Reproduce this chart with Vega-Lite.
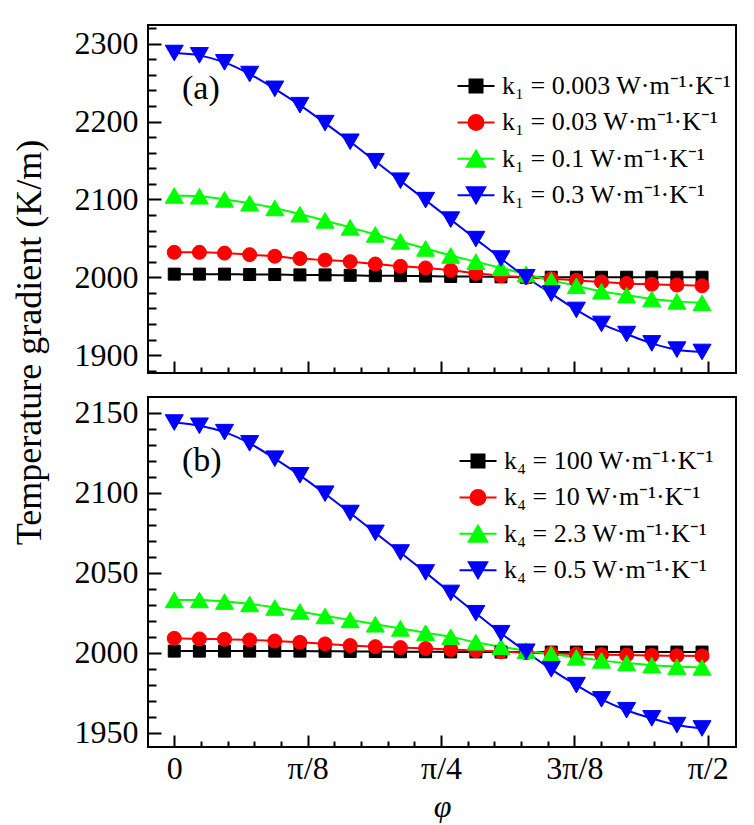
{
  "$schema": "https://vega.github.io/schema/vega-lite/v6.json",
  "padding": {"left": 10, "top": 24, "right": 0, "bottom": 0},
  "background": "white",
  "config": {
    "view": {"stroke": "black", "strokeWidth": 2},
    "axis": {"domain": false, "grid": false, "tickColor": "black", "tickWidth": 2, "labelFont": "Liberation Serif", "labelFontSize": 32, "labelColor": "black", "titleFont": "Liberation Serif", "titleColor": "black", "titleFontWeight": "normal"},
    "legend": {"labelFont": "Liberation Serif", "labelFontSize": 26, "labelColor": "black", "labelLimit": 400, "symbolSize": 400, "symbolStrokeWidth": 2, "symbolOpacity": 1, "labelOffset": 13, "padding": 0, "rowPadding": 10.4, "titlePadding": 0},
    "title": {"font": "Liberation Serif", "fontSize": 34, "fontWeight": "normal", "color": "black"}
  },
  "datasets": {
    "a": [
      {"x": 0, "y": 2004, "k": "0.003"}, {"x": 4.24, "y": 2004, "k": "0.003"}, {"x": 8.48, "y": 2004, "k": "0.003"}, {"x": 12.72, "y": 2003.5, "k": "0.003"}, {"x": 16.96, "y": 2003.5, "k": "0.003"}, {"x": 21.2, "y": 2003, "k": "0.003"}, {"x": 25.44, "y": 2003, "k": "0.003"}, {"x": 29.68, "y": 2002.5, "k": "0.003"}, {"x": 33.92, "y": 2002, "k": "0.003"}, {"x": 38.16, "y": 2002, "k": "0.003"}, {"x": 42.4, "y": 2001.5, "k": "0.003"}, {"x": 46.64, "y": 2001, "k": "0.003"}, {"x": 50.88, "y": 2001, "k": "0.003"}, {"x": 55.12, "y": 2000.5, "k": "0.003"}, {"x": 59.36, "y": 2000, "k": "0.003"}, {"x": 63.6, "y": 2000, "k": "0.003"}, {"x": 67.84, "y": 2000, "k": "0.003"}, {"x": 72.08, "y": 2000, "k": "0.003"}, {"x": 76.32, "y": 2000, "k": "0.003"}, {"x": 80.56, "y": 2000, "k": "0.003"}, {"x": 84.8, "y": 2000, "k": "0.003"}, {"x": 89.04, "y": 2000, "k": "0.003"},
      {"x": 0, "y": 2032, "k": "0.03"}, {"x": 4.24, "y": 2032, "k": "0.03"}, {"x": 8.48, "y": 2031, "k": "0.03"}, {"x": 12.72, "y": 2029, "k": "0.03"}, {"x": 16.96, "y": 2027, "k": "0.03"}, {"x": 21.2, "y": 2024, "k": "0.03"}, {"x": 25.44, "y": 2022, "k": "0.03"}, {"x": 29.68, "y": 2020, "k": "0.03"}, {"x": 33.92, "y": 2017, "k": "0.03"}, {"x": 38.16, "y": 2014, "k": "0.03"}, {"x": 42.4, "y": 2012, "k": "0.03"}, {"x": 46.64, "y": 2009, "k": "0.03"}, {"x": 50.88, "y": 2005, "k": "0.03"}, {"x": 55.12, "y": 2002, "k": "0.03"}, {"x": 59.36, "y": 2000, "k": "0.03"}, {"x": 63.6, "y": 1998, "k": "0.03"}, {"x": 67.84, "y": 1996, "k": "0.03"}, {"x": 72.08, "y": 1994, "k": "0.03"}, {"x": 76.32, "y": 1992, "k": "0.03"}, {"x": 80.56, "y": 1991, "k": "0.03"}, {"x": 84.8, "y": 1990, "k": "0.03"}, {"x": 89.04, "y": 1989, "k": "0.03"},
      {"x": 0, "y": 2105, "k": "0.1"}, {"x": 4.24, "y": 2104, "k": "0.1"}, {"x": 8.48, "y": 2100, "k": "0.1"}, {"x": 12.72, "y": 2095, "k": "0.1"}, {"x": 16.96, "y": 2089, "k": "0.1"}, {"x": 21.2, "y": 2081, "k": "0.1"}, {"x": 25.44, "y": 2073, "k": "0.1"}, {"x": 29.68, "y": 2064, "k": "0.1"}, {"x": 33.92, "y": 2055, "k": "0.1"}, {"x": 38.16, "y": 2046, "k": "0.1"}, {"x": 42.4, "y": 2037, "k": "0.1"}, {"x": 46.64, "y": 2028, "k": "0.1"}, {"x": 50.88, "y": 2020, "k": "0.1"}, {"x": 55.12, "y": 2012, "k": "0.1"}, {"x": 59.36, "y": 2004, "k": "0.1"}, {"x": 63.6, "y": 1996, "k": "0.1"}, {"x": 67.84, "y": 1989, "k": "0.1"}, {"x": 72.08, "y": 1982, "k": "0.1"}, {"x": 76.32, "y": 1977, "k": "0.1"}, {"x": 80.56, "y": 1972, "k": "0.1"}, {"x": 84.8, "y": 1969, "k": "0.1"}, {"x": 89.04, "y": 1967, "k": "0.1"},
      {"x": 0, "y": 2288, "k": "0.3"}, {"x": 4.24, "y": 2285, "k": "0.3"}, {"x": 8.48, "y": 2276, "k": "0.3"}, {"x": 12.72, "y": 2261, "k": "0.3"}, {"x": 16.96, "y": 2242, "k": "0.3"}, {"x": 21.2, "y": 2221, "k": "0.3"}, {"x": 25.44, "y": 2198, "k": "0.3"}, {"x": 29.68, "y": 2174, "k": "0.3"}, {"x": 33.92, "y": 2149, "k": "0.3"}, {"x": 38.16, "y": 2124, "k": "0.3"}, {"x": 42.4, "y": 2099, "k": "0.3"}, {"x": 46.64, "y": 2074, "k": "0.3"}, {"x": 50.88, "y": 2049, "k": "0.3"}, {"x": 55.12, "y": 2024, "k": "0.3"}, {"x": 59.36, "y": 2000, "k": "0.3"}, {"x": 63.6, "y": 1979, "k": "0.3"}, {"x": 67.84, "y": 1958, "k": "0.3"}, {"x": 72.08, "y": 1940, "k": "0.3"}, {"x": 76.32, "y": 1927, "k": "0.3"}, {"x": 80.56, "y": 1915, "k": "0.3"}, {"x": 84.8, "y": 1907, "k": "0.3"}, {"x": 89.04, "y": 1904, "k": "0.3"}
    ],
    "b": [
      {"x": 0, "y": 2001, "k": "100"}, {"x": 4.24, "y": 2001, "k": "100"}, {"x": 8.48, "y": 2001, "k": "100"}, {"x": 12.72, "y": 2001, "k": "100"}, {"x": 16.96, "y": 2001, "k": "100"}, {"x": 21.2, "y": 2001, "k": "100"}, {"x": 25.44, "y": 2000.9, "k": "100"}, {"x": 29.68, "y": 2000.8, "k": "100"}, {"x": 33.92, "y": 2000.7, "k": "100"}, {"x": 38.16, "y": 2000.6, "k": "100"}, {"x": 42.4, "y": 2000.6, "k": "100"}, {"x": 46.64, "y": 2000.5, "k": "100"}, {"x": 50.88, "y": 2000.5, "k": "100"}, {"x": 55.12, "y": 2000.4, "k": "100"}, {"x": 59.36, "y": 2000.4, "k": "100"}, {"x": 63.6, "y": 2000.4, "k": "100"}, {"x": 67.84, "y": 2000.4, "k": "100"}, {"x": 72.08, "y": 2000.4, "k": "100"}, {"x": 76.32, "y": 2000.4, "k": "100"}, {"x": 80.56, "y": 2000.4, "k": "100"}, {"x": 84.8, "y": 2000.4, "k": "100"}, {"x": 89.04, "y": 2000.4, "k": "100"},
      {"x": 0, "y": 2009, "k": "10"}, {"x": 4.24, "y": 2008.6, "k": "10"}, {"x": 8.48, "y": 2008.4, "k": "10"}, {"x": 12.72, "y": 2008, "k": "10"}, {"x": 16.96, "y": 2007.3, "k": "10"}, {"x": 21.2, "y": 2006.5, "k": "10"}, {"x": 25.44, "y": 2005.5, "k": "10"}, {"x": 29.68, "y": 2004.5, "k": "10"}, {"x": 33.92, "y": 2003.8, "k": "10"}, {"x": 38.16, "y": 2003.2, "k": "10"}, {"x": 42.4, "y": 2002.6, "k": "10"}, {"x": 46.64, "y": 2002, "k": "10"}, {"x": 50.88, "y": 2001.3, "k": "10"}, {"x": 55.12, "y": 2000.7, "k": "10"}, {"x": 59.36, "y": 2000, "k": "10"}, {"x": 63.6, "y": 1999.6, "k": "10"}, {"x": 67.84, "y": 1999.2, "k": "10"}, {"x": 72.08, "y": 1998.8, "k": "10"}, {"x": 76.32, "y": 1998.5, "k": "10"}, {"x": 80.56, "y": 1998.3, "k": "10"}, {"x": 84.8, "y": 1998.1, "k": "10"}, {"x": 89.04, "y": 1998, "k": "10"},
      {"x": 0, "y": 2033, "k": "2.3"}, {"x": 4.24, "y": 2033, "k": "2.3"}, {"x": 8.48, "y": 2032, "k": "2.3"}, {"x": 12.72, "y": 2030.5, "k": "2.3"}, {"x": 16.96, "y": 2028.3, "k": "2.3"}, {"x": 21.2, "y": 2025.8, "k": "2.3"}, {"x": 25.44, "y": 2023, "k": "2.3"}, {"x": 29.68, "y": 2020.5, "k": "2.3"}, {"x": 33.92, "y": 2017.8, "k": "2.3"}, {"x": 38.16, "y": 2015.2, "k": "2.3"}, {"x": 42.4, "y": 2012.5, "k": "2.3"}, {"x": 46.64, "y": 2010, "k": "2.3"}, {"x": 50.88, "y": 2006.5, "k": "2.3"}, {"x": 55.12, "y": 2003.8, "k": "2.3"}, {"x": 59.36, "y": 2001.3, "k": "2.3"}, {"x": 63.6, "y": 1999.2, "k": "2.3"}, {"x": 67.84, "y": 1997.1, "k": "2.3"}, {"x": 72.08, "y": 1995.2, "k": "2.3"}, {"x": 76.32, "y": 1993.5, "k": "2.3"}, {"x": 80.56, "y": 1992.2, "k": "2.3"}, {"x": 84.8, "y": 1991.3, "k": "2.3"}, {"x": 89.04, "y": 1990.8, "k": "2.3"},
      {"x": 0, "y": 2144, "k": "0.5"}, {"x": 4.24, "y": 2142, "k": "0.5"}, {"x": 8.48, "y": 2138, "k": "0.5"}, {"x": 12.72, "y": 2131, "k": "0.5"}, {"x": 16.96, "y": 2121.4, "k": "0.5"}, {"x": 21.2, "y": 2111, "k": "0.5"}, {"x": 25.44, "y": 2099.5, "k": "0.5"}, {"x": 29.68, "y": 2087.4, "k": "0.5"}, {"x": 33.92, "y": 2075, "k": "0.5"}, {"x": 38.16, "y": 2062.7, "k": "0.5"}, {"x": 42.4, "y": 2050.2, "k": "0.5"}, {"x": 46.64, "y": 2037.4, "k": "0.5"}, {"x": 50.88, "y": 2024.7, "k": "0.5"}, {"x": 55.12, "y": 2012.2, "k": "0.5"}, {"x": 59.36, "y": 2000.6, "k": "0.5"}, {"x": 63.6, "y": 1989.6, "k": "0.5"}, {"x": 67.84, "y": 1979.7, "k": "0.5"}, {"x": 72.08, "y": 1970.8, "k": "0.5"}, {"x": 76.32, "y": 1964, "k": "0.5"}, {"x": 80.56, "y": 1958.9, "k": "0.5"}, {"x": 84.8, "y": 1954.7, "k": "0.5"}, {"x": 89.04, "y": 1952.6, "k": "0.5"}
    ]
  },
  "vconcat": [
    {
      "data": {"name": "a"},
      "width": 588,
      "height": 348,
      "title": {"text": "(a)", "anchor": "start", "frame": "group", "orient": "top", "offset": 0, "dx": 34, "dy": 81},
      "encoding": {
        "x": {"field": "x", "type": "quantitative", "scale": {"domain": [-4.43, 94.77], "nice": false, "zero": false},
          "axis": {"values": [0, 4.5, 9, 13.5, 18, 22.5, 27, 31.5, 36, 40.5, 45, 49.5, 54, 58.5, 63, 67.5, 72, 76.5, 81, 85.5, 90], "labels": false, "title": null,
            "tickSize": {"condition": {"test": "datum.value % 22.5 === 0", "value": -12}, "value": -6}}},
        "y": {"field": "y", "type": "quantitative", "scale": {"domain": [1877, 2324], "nice": false, "zero": false},
          "axis": {"values": [1880, 1900, 1920, 1940, 1960, 1980, 2000, 2020, 2040, 2060, 2080, 2100, 2120, 2140, 2160, 2180, 2200, 2220, 2240, 2260, 2280, 2300, 2320], "format": "d",
            "labelExpr": "datum.value % 100 === 0 ? datum.label : ''", "labelPadding": 23,
            "tickSize": {"condition": {"test": "datum.value % 100 === 0", "value": -13}, "value": -8},
            "title": "Temperature gradient (K/m)", "titleFontSize": 36, "titleX": -108, "titleY": 317, "titleAngle": -90, "titleAlign": "center", "titleBaseline": "alphabetic"}}
      },
      "layer": [
        {"mark": {"type": "line", "strokeWidth": 2, "interpolate": "monotone"},
          "encoding": {
            "detail": {"field": "k", "type": "nominal"},
            "stroke": {"condition": [{"test": "datum.k === '0.003'", "value": "#000000"}, {"test": "datum.k === '0.03'", "value": "#ff0000"}, {"test": "datum.k === '0.1'", "value": "#00ff00"}], "value": "#0000ff"}}},
        {"mark": {"type": "point", "filled": true, "opacity": 1, "strokeWidth": 1},
          "encoding": {
            "fill": {"condition": [{"test": "datum.k === '0.003'", "value": "#000000"}, {"test": "datum.k === '0.03'", "value": "#ff0000"}, {"test": "datum.k === '0.1'", "value": "#00ff00"}], "value": "#0000ff"},
            "stroke": {"condition": [{"test": "datum.k === '0.003'", "value": "#000000"}, {"test": "datum.k === '0.03'", "value": "#ff0000"}, {"test": "datum.k === '0.1'", "value": "#00ff00"}], "value": "#0000ff"},
            "shape": {"condition": [{"test": "datum.k === '0.003'", "value": "square"}, {"test": "datum.k === '0.03'", "value": "circle"}, {"test": "datum.k === '0.1'", "value": "triangle-up"}], "value": "triangle-down"},
            "size": {"condition": [{"test": "datum.k === '0.003'", "value": 144}, {"test": "datum.k === '0.03'", "value": 196}], "value": 324}
          }},
        {"transform": [{"filter": "datum.x < -100"}],
          "mark": {"type": "point", "filled": true, "strokeWidth": 2},
          "encoding": {
            "fill": {"field": "k", "type": "nominal", "scale": {"domain": ["0.003", "0.03", "0.1", "0.3"], "range": ["#000000", "#ff0000", "#00ff00", "#0000ff"]},
              "legend": {"title": null, "orient": "none", "legendX": 315, "legendY": 48, "labelExpr": "'k₁ = ' + datum.label + ' W·m⁻¹·K⁻¹'"}},
            "stroke": {"field": "k", "type": "nominal", "scale": {"domain": ["0.003", "0.03", "0.1", "0.3"], "range": ["#000000", "#ff0000", "#00ff00", "#0000ff"]},
              "legend": {"title": null, "orient": "none", "legendX": 315, "legendY": 48, "labelExpr": "'k₁ = ' + datum.label + ' W·m⁻¹·K⁻¹'"}},
            "shape": {"field": "k", "type": "nominal", "scale": {"domain": ["0.003", "0.03", "0.1", "0.3"], "range": ["M-1.85,0H1.85M-0.65,-0.65H0.65V0.65H-0.65Z", "M-1.85,0H1.85M0.75,0A0.75,0.75,0,1,1,-0.75,0A0.75,0.75,0,1,1,0.75,0Z", "M-1.85,0H1.85M0,-0.8L0.92,0.8L-0.92,0.8Z", "M-1.85,0H1.85M0,0.8L0.92,-0.8L-0.92,-0.8Z"]},
              "legend": {"title": null, "orient": "none", "legendX": 315, "legendY": 48, "labelExpr": "'k₁ = ' + datum.label + ' W·m⁻¹·K⁻¹'"}}
          }}
      ]
    },
    {
      "data": {"name": "b"},
      "width": 588,
      "height": 350,
      "title": {"text": "(b)", "anchor": "start", "frame": "group", "orient": "top", "offset": 0, "dx": 34, "dy": 81},
      "encoding": {
        "x": {"field": "x", "type": "quantitative", "scale": {"domain": [-4.43, 94.77], "nice": false, "zero": false},
          "axis": {"values": [0, 4.5, 9, 13.5, 18, 22.5, 27, 31.5, 36, 40.5, 45, 49.5, 54, 58.5, 63, 67.5, 72, 76.5, 81, 85.5, 90],
            "labelExpr": "datum.value === 0 ? '0' : datum.value === 22.5 ? 'π/8' : datum.value === 45 ? 'π/4' : datum.value === 67.5 ? '3π/8' : datum.value === 90 ? 'π/2' : ''",
            "labelPadding": 18, "labelFlush": false,
            "tickSize": {"condition": {"test": "datum.value % 22.5 === 0", "value": -12}, "value": -6},
            "title": "φ", "titleFontSize": 32, "titleFontStyle": "italic", "titlePadding": 7}},
        "y": {"field": "y", "type": "quantitative", "scale": {"domain": [1941, 2160], "nice": false, "zero": false},
          "axis": {"values": [1950, 1960, 1970, 1980, 1990, 2000, 2010, 2020, 2030, 2040, 2050, 2060, 2070, 2080, 2090, 2100, 2110, 2120, 2130, 2140, 2150], "format": "d",
            "labelExpr": "datum.value % 50 === 0 ? datum.label : ''", "labelPadding": 23,
            "tickSize": {"condition": {"test": "datum.value % 50 === 0", "value": -13}, "value": -8},
            "title": null}}
      },
      "layer": [
        {"mark": {"type": "line", "strokeWidth": 2, "interpolate": "monotone"},
          "encoding": {
            "detail": {"field": "k", "type": "nominal"},
            "stroke": {"condition": [{"test": "datum.k === '100'", "value": "#000000"}, {"test": "datum.k === '10'", "value": "#ff0000"}, {"test": "datum.k === '2.3'", "value": "#00ff00"}], "value": "#0000ff"}}},
        {"mark": {"type": "point", "filled": true, "opacity": 1, "strokeWidth": 1},
          "encoding": {
            "fill": {"condition": [{"test": "datum.k === '100'", "value": "#000000"}, {"test": "datum.k === '10'", "value": "#ff0000"}, {"test": "datum.k === '2.3'", "value": "#00ff00"}], "value": "#0000ff"},
            "stroke": {"condition": [{"test": "datum.k === '100'", "value": "#000000"}, {"test": "datum.k === '10'", "value": "#ff0000"}, {"test": "datum.k === '2.3'", "value": "#00ff00"}], "value": "#0000ff"},
            "shape": {"condition": [{"test": "datum.k === '100'", "value": "square"}, {"test": "datum.k === '10'", "value": "circle"}, {"test": "datum.k === '2.3'", "value": "triangle-up"}], "value": "triangle-down"},
            "size": {"condition": [{"test": "datum.k === '100'", "value": 144}, {"test": "datum.k === '10'", "value": 196}], "value": 324}
          }},
        {"transform": [{"filter": "datum.x < -100"}],
          "mark": {"type": "point", "filled": true, "strokeWidth": 2},
          "encoding": {
            "fill": {"field": "k", "type": "nominal", "scale": {"domain": ["100", "10", "2.3", "0.5"], "range": ["#000000", "#ff0000", "#00ff00", "#0000ff"]},
              "legend": {"title": null, "orient": "none", "legendX": 317, "legendY": 51, "labelExpr": "'k₄ = ' + datum.label + ' W·m⁻¹·K⁻¹'"}},
            "stroke": {"field": "k", "type": "nominal", "scale": {"domain": ["100", "10", "2.3", "0.5"], "range": ["#000000", "#ff0000", "#00ff00", "#0000ff"]},
              "legend": {"title": null, "orient": "none", "legendX": 317, "legendY": 51, "labelExpr": "'k₄ = ' + datum.label + ' W·m⁻¹·K⁻¹'"}},
            "shape": {"field": "k", "type": "nominal", "scale": {"domain": ["100", "10", "2.3", "0.5"], "range": ["M-1.85,0H1.85M-0.65,-0.65H0.65V0.65H-0.65Z", "M-1.85,0H1.85M0.75,0A0.75,0.75,0,1,1,-0.75,0A0.75,0.75,0,1,1,0.75,0Z", "M-1.85,0H1.85M0,-0.8L0.92,0.8L-0.92,0.8Z", "M-1.85,0H1.85M0,0.8L0.92,-0.8L-0.92,-0.8Z"]},
              "legend": {"title": null, "orient": "none", "legendX": 317, "legendY": 51, "labelExpr": "'k₄ = ' + datum.label + ' W·m⁻¹·K⁻¹'"}}
          }}
      ]
    }
  ],
  "spacing": 24,
  "bounds": "flush",
  "resolve": {"scale": {"fill": "independent", "stroke": "independent", "shape": "independent", "y": "independent"}, "legend": {"fill": "independent", "stroke": "independent", "shape": "independent"}}
}
